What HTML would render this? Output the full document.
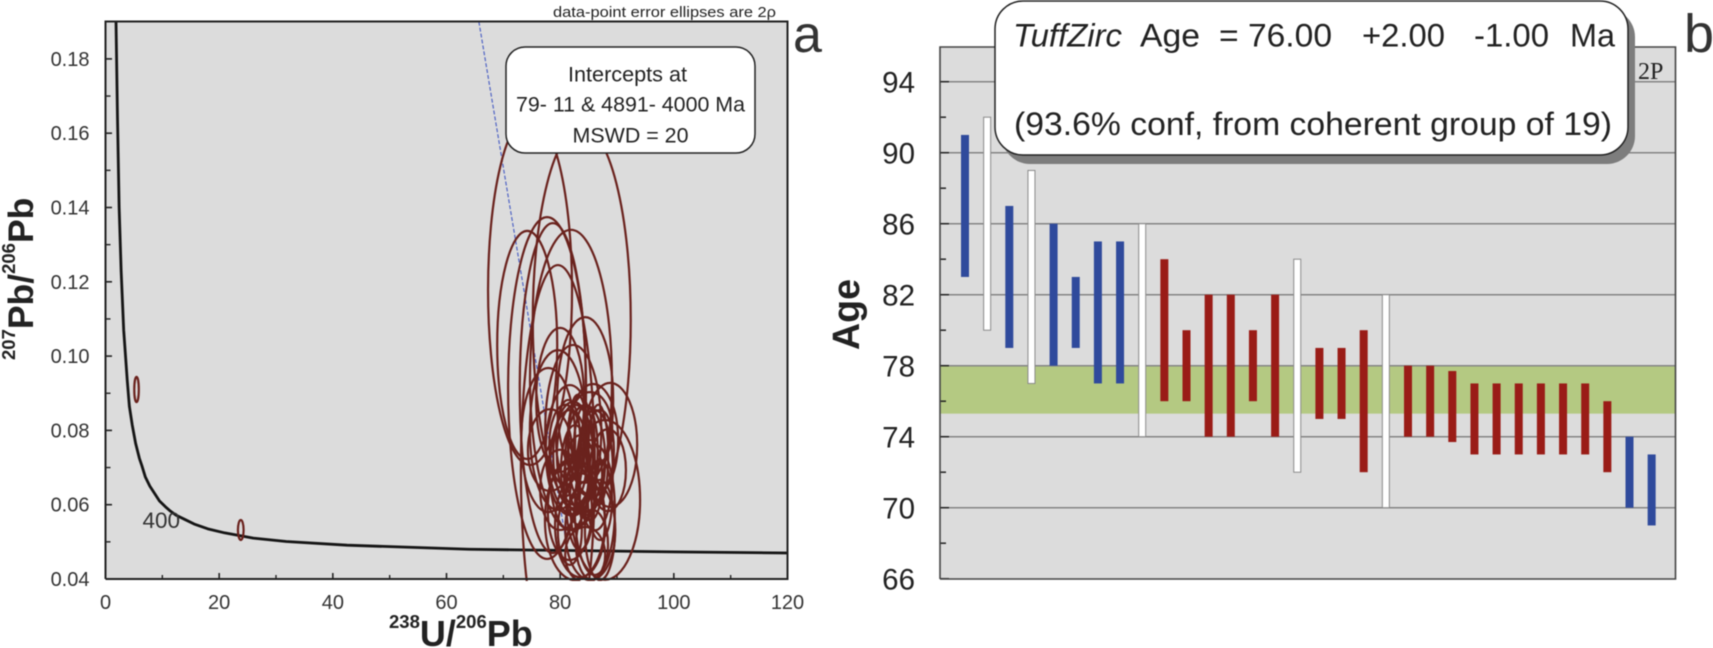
<!DOCTYPE html>
<html lang="en">
<head>
<meta charset="utf-8">
<title>U-Pb concordia and TuffZirc age chart</title>
<style>
html,body{margin:0;padding:0;background:#fff;width:1713px;height:648px;overflow:hidden}
svg{display:block;position:absolute;left:0;top:0;font-family:"Liberation Sans",Arial,sans-serif;filter:blur(0.4px)}
</style>
</head>
<body>
<svg id="chart" xmlns="http://www.w3.org/2000/svg" width="1713" height="648" viewBox="0 0 1713 648">
  <defs>
    <clipPath id="clipA"><rect x="105.5" y="21.5" width="682" height="559.5"/></clipPath>
  </defs>
  <g id="panelA">
    <rect x="105.5" y="21.5" width="682" height="557.5" fill="#dcdcdc"/>
    <g id="ticksA"></g>
    <g id="marksA" clip-path="url(#clipA)"></g>
    <path d="M105.5 579V21.5H787.5V579H105.5" fill="none" stroke="#222" stroke-width="2"/>
    <text x="142.5" y="528" font-size="22.5" fill="#333">400</text>
    <text x="553" y="17" font-size="15" fill="#222" textLength="223" lengthAdjust="spacingAndGlyphs">data-point error ellipses are 2ρ</text>
    <rect x="506" y="47" width="249" height="106" rx="19" fill="#fff" stroke="#222" stroke-width="1.5"/>
    <text x="568" y="81.5" font-size="21" fill="#222" textLength="119" lengthAdjust="spacingAndGlyphs">Intercepts at</text>
    <text x="516" y="111.5" font-size="21" fill="#222" textLength="229" lengthAdjust="spacingAndGlyphs">79- 11 &amp; 4891- 4000 Ma</text>
    <text x="572.5" y="142.5" font-size="21" fill="#222" textLength="116" lengthAdjust="spacingAndGlyphs">MSWD = 20</text>
    <text transform="translate(33,360) rotate(-90)" font-weight="bold" fill="#222" font-size="35.5"><tspan font-size="18.5" dy="-18">207</tspan><tspan dy="18">Pb/</tspan><tspan font-size="18.5" dy="-18">206</tspan><tspan dy="18">Pb</tspan></text>
    <text x="389" y="646" font-weight="bold" fill="#222" font-size="36"><tspan font-size="18.5" dy="-18">238</tspan><tspan dy="18">U/</tspan><tspan font-size="18.5" dy="-18">206</tspan><tspan dy="18">Pb</tspan></text>
    <text x="793" y="52" font-size="52" fill="#333">a</text>
  </g>
  <g id="panelB">
    <rect x="940" y="47" width="735.5" height="532" fill="#dcdcdc"/>
    <g id="marksB"></g>
    <path d="M940 579V47H1675.5V579H940" fill="none" stroke="#444" stroke-width="1.6"/>
    <text x="1638" y="79" font-size="24" fill="#222" font-family="'Liberation Serif',serif">2P</text>
    <rect x="1002" y="9" width="633" height="155" rx="28" fill="#7d7d7d"/>
    <rect x="995" y="1" width="633" height="154" rx="28" fill="#fff" stroke="#222" stroke-width="1.5"/>
    <g font-size="32" fill="#222">
      <text x="1013" y="46.5" font-style="italic" textLength="109" lengthAdjust="spacingAndGlyphs">TuffZirc</text>
      <text x="1140" y="46.5" textLength="60" lengthAdjust="spacingAndGlyphs">Age</text>
      <text x="1219" y="46.5" textLength="113" lengthAdjust="spacingAndGlyphs">= 76.00</text>
      <text x="1362" y="46.5" textLength="83" lengthAdjust="spacingAndGlyphs">+2.00</text>
      <text x="1474" y="46.5" textLength="75" lengthAdjust="spacingAndGlyphs">-1.00</text>
      <text x="1570" y="46.5" textLength="45" lengthAdjust="spacingAndGlyphs">Ma</text>
      <text x="1014" y="135" textLength="598" lengthAdjust="spacingAndGlyphs">(93.6% conf, from coherent group of 19)</text>
    </g>
    <text transform="translate(859,350) rotate(-90)" font-size="38" font-weight="bold" fill="#222" textLength="71" lengthAdjust="spacingAndGlyphs">Age</text>
    <text x="1684" y="52" font-size="54" fill="#333">b</text>
  </g>
</svg>
<script>
// Panel a: concordia data
const xTicksA = [0, 20, 40, 60, 80, 100, 120];
const xMinorA = [10, 30, 50, 70, 90, 110];
const yTicksA = ["0.04", "0.06", "0.08", "0.10", "0.12", "0.14", "0.16", "0.18"];
const yMinorA = [0.05, 0.07, 0.09, 0.11, 0.13, 0.15, 0.17];
const concordiaX = [1.85, 2.1, 2.4, 2.75, 3.2, 3.82, 4.2, 4.7, 5.3, 5.96, 6.4, 7, 7.8, 8.73, 9.5, 10.5, 11.4, 12.4, 14, 15.6, 18, 21, 26, 31.8, 42.5, 63.9, 80, 100, 120];
const concordiaY = [0.19, 0.165, 0.14, 0.123, 0.107, 0.0936, 0.0865, 0.0815, 0.0765, 0.0725, 0.0705, 0.0675, 0.065, 0.0628, 0.061, 0.0595, 0.0583, 0.0572, 0.056, 0.0548, 0.0535, 0.0524, 0.051, 0.0501, 0.0491, 0.048, 0.0477, 0.0473, 0.047];
const discordiaX = [65.7, 81.3];
const discordiaY = [0.19, 0.0477];
const ellipseU = [5.46, 23.8, 74.7, 83.8, 74.2, 77.7, 78.7, 81.9, 84.4, 80.0, 82.3, 79.6, 77.9, 81.7, 85.8, 88.8, 82.3, 78.2, 88.4, 87.9, 82.6, 84.4, 81.7, 86.1, 83.5, 87.0, 80.9, 85.3, 83.5, 85.3, 82.6, 87.0, 81.7, 86.1, 79.6, 81.4, 83.1, 84.5, 86.7, 82.6, 85.3, 83.5, 81.7, 85.6, 87.0, 80.0, 84.4];
const ellipsePb = [0.0910, 0.0532, 0.1178, 0.1097, 0.1030, 0.0914, 0.0914, 0.0936, 0.0882, 0.0882, 0.0801, 0.0801, 0.0774, 0.0747, 0.0774, 0.0761, 0.0734, 0.0747, 0.0693, 0.0613, 0.0734, 0.0720, 0.0693, 0.0693, 0.0666, 0.0747, 0.0761, 0.0801, 0.0545, 0.0532, 0.0559, 0.0532, 0.0586, 0.0586, 0.0693, 0.0774, 0.0761, 0.0747, 0.0734, 0.0693, 0.0666, 0.0613, 0.0532, 0.0492, 0.0613, 0.0640, 0.0465];
const ellipseErrU = [0.4, 0.5, 7.39, 8.62, 5.28, 6.86, 5.81, 7.21, 4.93, 4.22, 4.93, 4.93, 4.75, 4.22, 4.40, 4.75, 3.52, 3.87, 3.17, 6.16, 3.17, 3.52, 3.52, 3.17, 2.82, 2.46, 2.82, 3.87, 4.40, 4.40, 5.28, 2.64, 3.87, 3.52, 6.51, 2.11, 1.76, 2.11, 1.76, 2.46, 2.11, 2.46, 2.11, 2.82, 2.11, 3.52, 3.52];
const ellipseErrPb = [0.0034, 0.0027, 0.0471, 0.0520, 0.0307, 0.0460, 0.0444, 0.0404, 0.0223, 0.0194, 0.0229, 0.0215, 0.0194, 0.0175, 0.0151, 0.0167, 0.0143, 0.0110, 0.0110, 0.0215, 0.0135, 0.0148, 0.0162, 0.0162, 0.0121, 0.0108, 0.0108, 0.0102, 0.0140, 0.0135, 0.0162, 0.0135, 0.0135, 0.0175, 0.0552, 0.0108, 0.0135, 0.0121, 0.0135, 0.0121, 0.0108, 0.0135, 0.0094, 0.0094, 0.0108, 0.0108, 0.0075];

// Panel b: age data
const ageTicks = [66, 70, 74, 78, 82, 86, 90, 94];
const ageMinor = [68, 72, 76, 80, 84, 88, 92];
const ageHigh = [91, 92, 87, 89, 86, 83, 85, 85, 86, 84, 80, 82, 82, 80, 82, 84, 79, 79, 80, 82, 78, 78, 77.7, 77, 77, 77, 77, 77, 77, 76, 74, 73];
const ageLow = [83, 80, 79, 77, 78, 79, 77, 77, 74, 76, 76, 74, 74, 76, 74, 72, 75, 75, 72, 70, 74, 74, 73.7, 73, 73, 73, 73, 73, 73, 72, 70, 69];
const ageGroup = ["old", "rejected", "old", "rejected", "old", "old", "old", "old", "rejected", "used", "used", "used", "used", "used", "used", "rejected", "used", "used", "used", "rejected", "used", "used", "used", "used", "used", "used", "used", "used", "used", "used", "old", "old"];
const bandTop = 78;
const bandBottom = 75.3;

const NS = "http://www.w3.org/2000/svg";
const xA = v => 105.5 + v * 682 / 120;
const yA = v => 579 - (v - 0.04) * 3715;
const xB = i => 965 + i * 22.15;
const yB = v => 578.7 - (v - 66) * 17.75;

function make(tag, attrs, parent) {
  const el = document.createElementNS(NS, tag);
  for (const k in attrs) el.setAttribute(k, attrs[k]);
  parent.appendChild(el);
  return el;
}

const ticksA = document.getElementById("ticksA");
const marksA = document.getElementById("marksA");
const marksB = document.getElementById("marksB");

xTicksA.forEach(v => {
  const t = make("line", {x1: xA(v), x2: xA(v), y1: 579, y2: 573, stroke: "#222", "stroke-width": 1.6}, ticksA);
  
  
  const l = make("text", {x: xA(v), y: 609, "font-size": 20, fill: "#333", "text-anchor": "middle"}, ticksA);
  
  
  l.textContent = v;
});
xMinorA.forEach(v => {
  const t = make("line", {x1: xA(v), x2: xA(v), y1: 579, y2: 575, stroke: "#222", "stroke-width": 1.4}, ticksA);
  
  
});
yTicksA.forEach(s => {
  const v = parseFloat(s);
  const t = make("line", {x1: 105.5, x2: 112, y1: yA(v), y2: yA(v), stroke: "#222", "stroke-width": 1.6}, ticksA);
  
  
  const l = make("text", {x: 89.5, y: yA(v) + 7, "font-size": 20, fill: "#333", "text-anchor": "end"}, ticksA);
  
  
  l.textContent = s;
});
yMinorA.forEach(v => {
  const t = make("line", {x1: 105.5, x2: 110.5, y1: yA(v), y2: yA(v), stroke: "#222", "stroke-width": 1.4}, ticksA);
  
  
});

const discordia = make("line", {x1: xA(discordiaX[0]), y1: yA(discordiaY[0]), x2: xA(discordiaX[1]), y2: yA(discordiaY[1]), stroke: "#4f63c4", "stroke-width": 1.2, "stroke-dasharray": "4 2"}, marksA);



const concordia = make("polyline", {points: concordiaX.map((x, i) => xA(x) + "," + yA(concordiaY[i])).join(" "), fill: "none", stroke: "#151515", "stroke-width": 2.8, "stroke-linejoin": "round"}, marksA);



ellipseU.forEach((u, i) => {
  const e = make("ellipse", {cx: xA(u), cy: yA(ellipsePb[i]), rx: ellipseErrU[i] * 682 / 120, ry: ellipseErrPb[i] * 3715, fill: "none", stroke: "#6a221d", "stroke-width": 2.2}, marksA);
  
  
});

const band = make("rect", {x: 940, width: 735.5, y: yB(bandTop), height: yB(bandBottom) - yB(bandTop), fill: "#b4c982"}, marksB);



ageTicks.forEach(v => {
  if (v > 66) {
    const g = make("line", {x1: 940, x2: 1675.5, y1: yB(v), y2: yB(v), stroke: "#858585", "stroke-width": 1.5}, marksB);
    
    
  }
  const t = make("line", {x1: 940, x2: 949, y1: yB(v), y2: yB(v), stroke: "#222", "stroke-width": 1.5}, marksB);
  
  
  const l = make("text", {x: 915, y: yB(v) + 11, "font-size": 29.5, fill: "#222", "text-anchor": "end"}, marksB);
  
  
  l.textContent = v;
});
ageMinor.forEach(v => {
  const t = make("line", {x1: 940, x2: 946, y1: yB(v), y2: yB(v), stroke: "#222", "stroke-width": 1.5}, marksB);
  
  
});

const groupFill = {old: "#2f4a9c", used: "#9a1c17", rejected: "#ffffff"};
ageHigh.forEach((hi, i) => {
  const g = ageGroup[i];
  const w = g === "rejected" ? 7 : 8;
  const attrs = {x: xB(i) - w / 2, width: w, y: yB(hi), height: yB(ageLow[i]) - yB(hi), fill: groupFill[g]};
  if (g === "rejected") {
    attrs.stroke = "#8a8a8a";
    attrs["stroke-width"] = 1;
  }
  const b = make("rect", attrs, marksB);
  
  
});
</script>
</body>
</html>
